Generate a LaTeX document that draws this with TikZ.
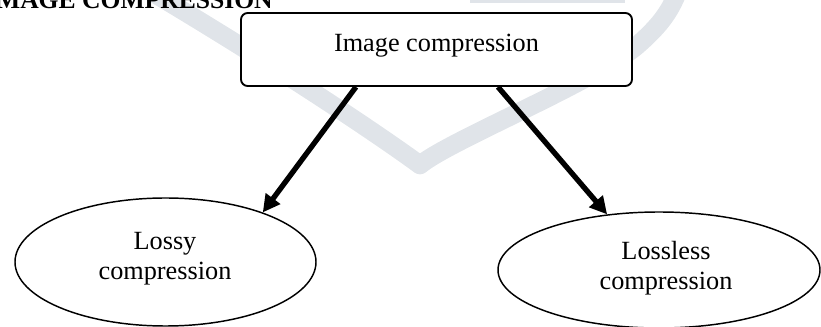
\documentclass[tikz,border=0pt]{standalone}
\usepackage{fontspec}
\setmainfont{Liberation Serif}
\usetikzlibrary{arrows.meta,shapes.geometric}
\definecolor{wmgray}{RGB}{224,228,233}
\tikzset{
  wm/.style={draw=wmgray, line width=14pt, line cap=butt, line join=round},
  topbox/.style={draw, line width=1.4pt, rounded corners=5pt, fill=white,
    minimum width=293.25pt, minimum height=54.75pt, inner sep=0pt},
  oval/.style={draw, ellipse, line width=1.1pt, fill=white, inner sep=0pt},
  lbl/.style={font=\fontsize{19.7pt}{22.5pt}\selectfont, align=center, anchor=base, inner sep=0pt},
  ttl/.style={font=\fontsize{19.2pt}{22pt}\selectfont\bfseries, anchor=base east, inner sep=0pt},
  arr/.style={line width=4pt, -{Triangle[length=13pt,width=13pt]}},
}
\begin{document}
\begin{tikzpicture}[x=0.75pt,y=-0.75pt]
\useasboundingbox (0,0) rectangle (821,327);
% watermark
\draw[wm] (140,-15) .. controls (300,80) and (400,150) .. (420,165)
  .. controls (450,140) and (600,80) .. (640,43)
  .. controls (660,25) and (672,10) .. (680,-15);
\draw[wm] (470,-6) -- (625,-6);
% title
\node[ttl] (title) at (273,8.5) {IMAGE COMPRESSION};
% boxes
\node[topbox] (img) at (436.5,49.5) {};
\node[lbl] (imgt) at (436.5,52) {Image compression};
\node[oval, minimum width=225.75pt, minimum height=96pt] (lossy) at (165.5,262) {};
\node[oval, minimum width=241.5pt, minimum height=87pt] (lossless) at (659,270) {};
\node[lbl] (lossyt) at (165,280) {Lossy\\compression};
\node[lbl] (losslesst) at (666,290) {Lossless\\compression};
% arrows
\draw[arr] ([xshift=-60.4pt]img.south) -- (lossy.27);
\draw[arr] ([xshift=46.1pt]img.south) -- (lossless.133);
\end{tikzpicture}
\end{document}
